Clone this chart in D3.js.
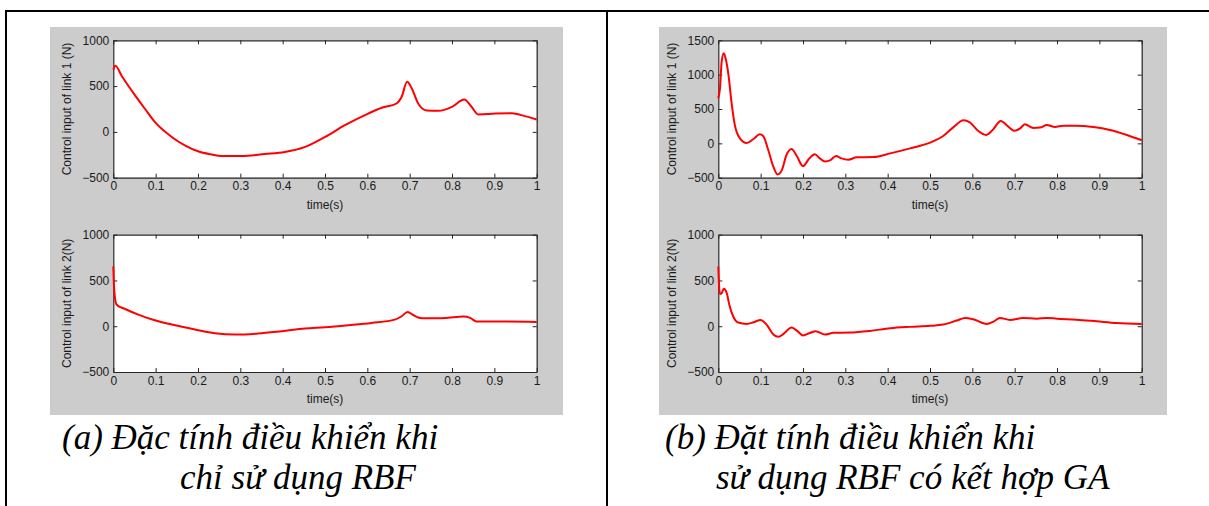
<!DOCTYPE html>
<html>
<head>
<meta charset="utf-8">
<script src="https://cdn.jsdelivr.net/npm/d3@7"></script>
<style>
  html, body { margin: 0; padding: 0; background: #fff; }
  svg { display: block; }
</style>
</head>
<body>
<svg id="fig" width="1209" height="506"></svg>
<script>
// --- data: [time (s), control input (N)] ---
const rbfLink1 = [
  [0, 680], [0.005, 722], [0.02, 610], [0.051, 401], [0.075, 250], [0.098, 109], [0.138, -55],
  [0.17, -150], [0.2, -212], [0.23, -245], [0.256, -263], [0.303, -263], [0.358, -241],
  [0.405, -219], [0.453, -164], [0.5, -55], [0.547, 73], [0.602, 200], [0.634, 263],
  [0.669, 310], [0.681, 383], [0.694, 547], [0.705, 474], [0.72, 310], [0.74, 234],
  [0.768, 230], [0.8, 274], [0.829, 354], [0.846, 274], [0.862, 190], [0.902, 200],
  [0.941, 204], [0.972, 172], [1, 135]
];
const rbfLink2 = [
  [0, 652], [0.0015, 453], [0.004, 308], [0.008, 235], [0.028, 188], [0.059, 127],
  [0.098, 65], [0.138, 18], [0.193, -36], [0.24, -76], [0.287, -91], [0.342, -80],
  [0.398, -54], [0.453, -25], [0.5, -11], [0.555, 11], [0.61, 36], [0.665, 72],
  [0.681, 109], [0.695, 156], [0.709, 120], [0.728, 87], [0.768, 87], [0.791, 94],
  [0.827, 105], [0.843, 91], [0.858, 51], [0.925, 51], [1, 47]
];
const gaLink1 = [
  [0, 657], [0.004, 803], [0.008, 1192], [0.013, 1313], [0.018, 1216], [0.024, 997],
  [0.031, 608], [0.039, 268], [0.051, 73], [0.067, 5], [0.083, 63], [0.098, 131],
  [0.106, 107], [0.118, -97], [0.13, -340], [0.14, -452], [0.15, -389], [0.161, -170],
  [0.173, -83], [0.185, -180], [0.2, -331], [0.215, -219], [0.228, -160], [0.24, -219],
  [0.252, -263], [0.264, -248], [0.278, -185], [0.291, -219], [0.307, -238], [0.327, -204],
  [0.366, -199], [0.406, -146], [0.453, -73], [0.5, 10], [0.531, 107], [0.555, 233],
  [0.579, 336], [0.594, 306], [0.614, 180], [0.632, 122], [0.648, 195], [0.667, 326],
  [0.685, 243], [0.698, 185], [0.713, 219], [0.724, 277], [0.744, 224], [0.76, 229],
  [0.776, 268], [0.795, 238], [0.815, 258], [0.846, 258], [0.886, 238], [0.925, 195],
  [0.965, 122], [1, 44]
];
const gaLink2 = [
  [0, 652], [0.0015, 471], [0.004, 351], [0.008, 362], [0.013, 409], [0.02, 362],
  [0.026, 235], [0.035, 109], [0.047, 40], [0.067, 25], [0.083, 43], [0.1, 69],
  [0.114, 18], [0.13, -91], [0.142, -116], [0.154, -83], [0.173, -14], [0.187, -54],
  [0.2, -101], [0.217, -72], [0.23, -54], [0.252, -91], [0.272, -72], [0.311, -69],
  [0.358, -51], [0.406, -22], [0.453, -7], [0.5, 4], [0.531, 18], [0.563, 62],
  [0.583, 91], [0.602, 76], [0.634, 25], [0.65, 51], [0.665, 91], [0.689, 69],
  [0.72, 91], [0.752, 83], [0.776, 91], [0.8, 83], [0.846, 72], [0.894, 54],
  [0.941, 36], [1, 25]
];

const timeTicks = [0, 0.1, 0.2, 0.3, 0.4, 0.5, 0.6, 0.7, 0.8, 0.9, 1];
const forceTicks = [-500, 0, 500, 1000];
const forceTicksWide = [-500, 0, 500, 1000, 1500];

const captionA = ["(a) Đặc tính điều khiển khi", "chỉ sử dụng RBF"];
const captionB = ["(b) Đặt tính điều khiển khi", "sử dụng RBF có kết hợp GA"];

const svg = d3.select("#fig");
const tickFont = "'Liberation Sans', Arial, sans-serif";

// frame lines of the page table
svg.append("path")
    .attr("d", "M6,506 V11 H1209 M607,11 V506")
    .attr("fill", "none")
    .attr("stroke", "#000")
    .attr("stroke-width", 2);

// grey figure backgrounds
svg.append("rect").attr("x", 50).attr("y", 27).attr("width", 513).attr("height", 388).attr("fill", "#cccccc");
svg.append("rect").attr("x", 659).attr("y", 27).attr("width", 508).attr("height", 388).attr("fill", "#cccccc");

function drawPlot(left, top, width, height, data, yTicks, yLabel) {
    const g = svg.append("g").attr("transform", `translate(${left},${top})`);

    const x = d3.scaleLinear().domain([0, 1]).range([0, width]);
    const y = d3.scaleLinear().domain(d3.extent(yTicks)).range([height, 0]);

    g.append("rect")
        .attr("width", width)
        .attr("height", height)
        .attr("fill", "#fff");

    const fmt = d => d === 0 || d === 1 ? String(d) : d.toFixed(1);

    const styleAxis = sel => {
        sel.selectAll("path, line").attr("stroke", "#262626");
        sel.selectAll("text")
            .attr("fill", "#1a1a1a")
            .style("font-family", tickFont)
            .style("font-size", "12px");
    };

    g.append("g")
        .attr("transform", `translate(0,${height})`)
        .call(d3.axisBottom(x).tickValues(timeTicks).tickFormat(fmt).tickSizeInner(-4).tickSizeOuter(0).tickPadding(4))
        .call(styleAxis);
    g.append("g")
        .call(d3.axisTop(x).tickValues(timeTicks).tickFormat("").tickSizeInner(-4).tickSizeOuter(0))
        .call(styleAxis);
    g.append("g")
        .call(d3.axisLeft(y).tickValues(yTicks).tickFormat(d3.format("d")).tickSizeInner(-4).tickSizeOuter(0).tickPadding(4))
        .call(styleAxis);
    g.append("g")
        .attr("transform", `translate(${width},0)`)
        .call(d3.axisRight(y).tickValues(yTicks).tickFormat("").tickSizeInner(-4).tickSizeOuter(0))
        .call(styleAxis);
    g.selectAll(".domain").attr("stroke-width", 1.2);

    const line = d3.line()
        .x(d => x(d[0]))
        .y(d => y(d[1]))
        .curve(d3.curveMonotoneX);

    g.append("path")
        .datum(data)
        .attr("fill", "none")
        .attr("stroke", "#ff0000")
        .attr("stroke-width", 2)
        .attr("stroke-linejoin", "round")
        .attr("d", line);

    g.append("text")
        .attr("x", width / 2)
        .attr("y", height + 31)
        .attr("text-anchor", "middle")
        .attr("fill", "#1a1a1a")
        .style("font-family", tickFont)
        .style("font-size", "12px")
        .text("time(s)");

    g.append("text")
        .attr("transform", `translate(${-42},${height / 2}) rotate(-90)`)
        .attr("text-anchor", "middle")
        .attr("fill", "#1a1a1a")
        .style("font-family", tickFont)
        .style("font-size", "12px")
        .text(yLabel);
}

drawPlot(113.3, 40.3, 423.4, 137.4, rbfLink1, forceTicks, "Control input of link 1 (N)");
drawPlot(113.3, 234.7, 423.4, 137.3, rbfLink2, forceTicks, "Control input of link 2(N)");
drawPlot(718.3, 40.3, 423.4, 137.4, gaLink1, forceTicksWide, "Control input of link 1 (N)");
drawPlot(718.3, 234.7, 423.4, 137.3, gaLink2, forceTicks, "Control input of link 2(N)");

// captions
function caption(lines, x1, x2) {
    const t = svg.append("g")
        .style("font-family", "'Liberation Serif', 'Times New Roman', serif")
        .style("font-style", "italic")
        .style("font-size", "35px")
        .attr("fill", "#000");
    t.append("text").attr("x", x1).attr("y", 449).text(lines[0]);
    t.append("text").attr("x", x2).attr("y", 489).text(lines[1]);
}
caption(captionA, 62, 180);
caption(captionB, 665, 716);
</script>
</body>
</html>
